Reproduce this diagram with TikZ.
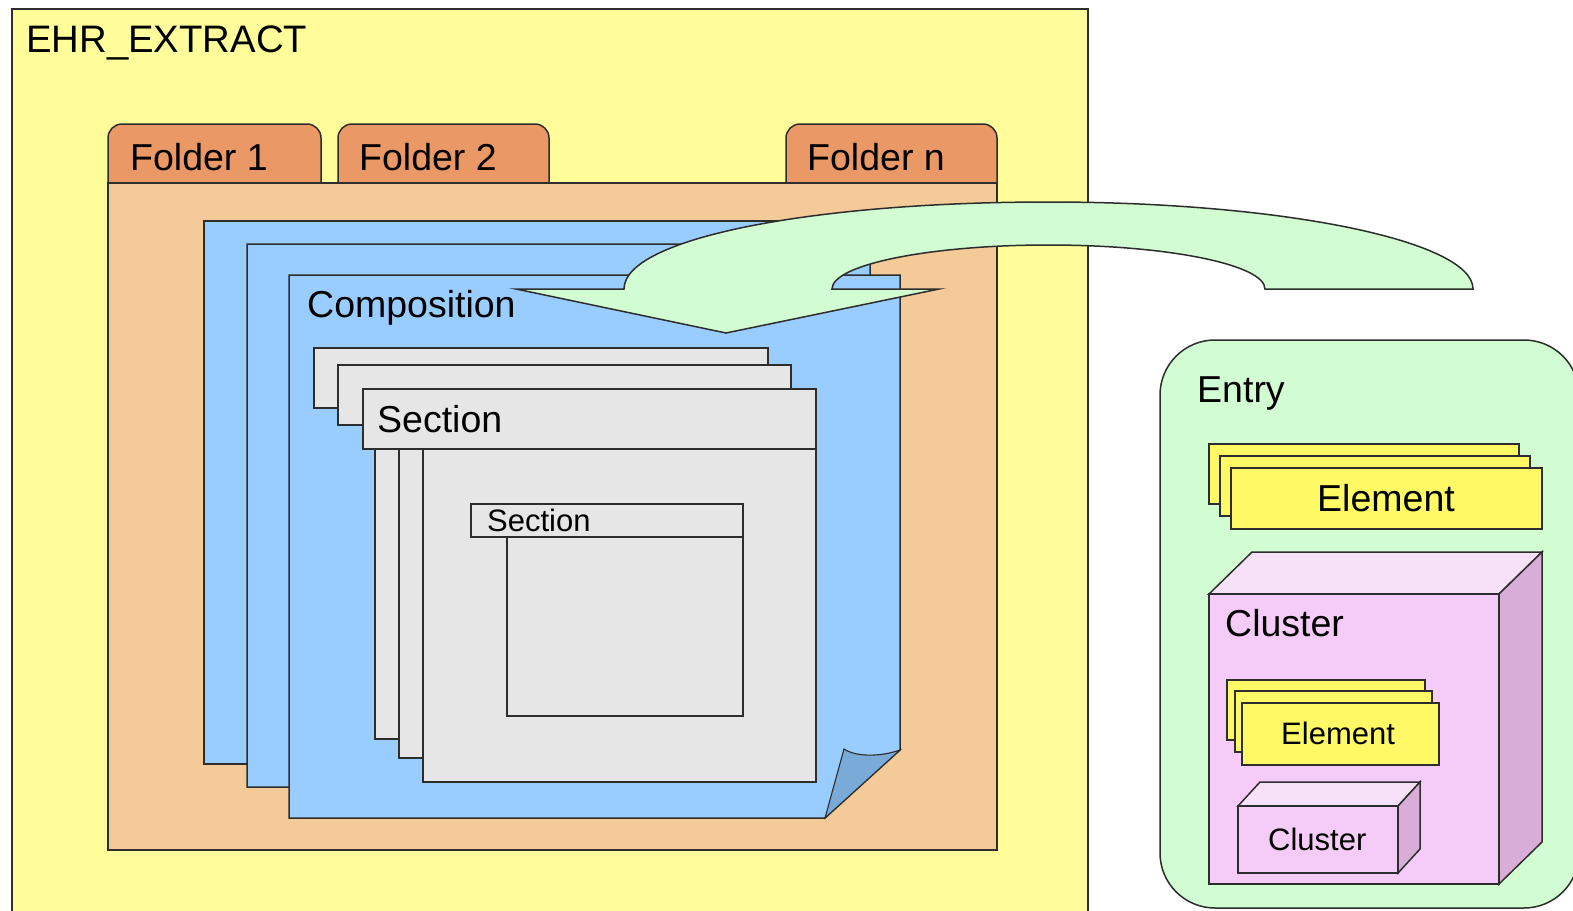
\documentclass[tikz,border=0pt]{standalone}
\usepackage{fontspec}
\setmainfont{Liberation Sans}
\definecolor{linec}{RGB}{45,45,45}
\definecolor{ehr}{RGB}{255,253,153}
\definecolor{fbody}{RGB}{244,202,152}
\definecolor{ftab}{RGB}{234,153,102}
\definecolor{comp}{RGB}{153,204,255}
\definecolor{curl}{RGB}{122,170,216}
\definecolor{sect}{RGB}{230,230,230}
\definecolor{entryg}{RGB}{210,252,210}
\definecolor{elem}{RGB}{255,249,102}
\definecolor{clfront}{RGB}{245,203,247}
\definecolor{cltop}{RGB}{247,225,249}
\definecolor{clside}{RGB}{216,174,216}
\begin{document}
\begin{tikzpicture}[x=1pt,y=-1pt,
  ln/.style={draw=linec,line width=1.5pt,line join=miter},
  lbl/.style={anchor=base west,inner sep=0pt,font=\fontsize{37.5}{40}\selectfont},
  slbl/.style={anchor=base west,inner sep=0pt,font=\fontsize{31}{34}\selectfont},
  clbl/.style={anchor=base,inner sep=0pt,font=\fontsize{37.5}{40}\selectfont}]
\useasboundingbox (0,0) rectangle (1573,910);
\clip (0,0) rectangle (1573,910);
\fill[white] (0,0) rectangle (1573,910);
% EHR extract
\filldraw[ln,fill=ehr] (12,9) rectangle (1088,940);
\node[lbl,font=\fontsize{38.3}{40}\selectfont] (ehr) at (26,52) {EHR\_EXTRACT};
% folders
\filldraw[ln,fill=ftab,rounded corners=14pt] (108,190) -- (108,124) -- (321,124) -- (321,190);
\filldraw[ln,fill=ftab,rounded corners=14pt] (338,190) -- (338,124) -- (549,124) -- (549,190);
\filldraw[ln,fill=ftab,rounded corners=14pt] (786,190) -- (786,124) -- (997,124) -- (997,190);
\filldraw[ln,fill=fbody] (108,183) rectangle (997,850);
\node[lbl] (f1) at (130,170) {Folder 1};
\node[lbl] (f2) at (359,170) {Folder 2};
\node[lbl] (fn) at (807,170) {Folder n};
% composition pages
\filldraw[ln,fill=comp] (204,221) rectangle (840,764);
\filldraw[ln,fill=comp] (247,244) -- (870,244) -- (870,719) -- (802,787) -- (247,787) -- cycle;
\filldraw[ln,fill=comp] (289,275) -- (900,275) -- (900,750) -- (825,818) -- (289,818) -- cycle;
\filldraw[ln,fill=curl,line width=1.1pt] (825,818) -- (844,749) .. controls (856,757) and (880,757) .. (900,750) -- cycle;
\node[lbl] (comp) at (307,317) {Composition};
% sections
\filldraw[ln,fill=sect] (375,408) rectangle (768,739);
\filldraw[ln,fill=sect] (314,348) rectangle (768,408);
\filldraw[ln,fill=sect] (399,425) rectangle (791,758);
\filldraw[ln,fill=sect] (338,365) rectangle (791,425);
\filldraw[ln,fill=sect] (423,449) rectangle (816,782);
\filldraw[ln,fill=sect] (363,389) rectangle (816,449);
\node[lbl] (sec) at (377,432) {Section};
\filldraw[ln,fill=sect] (507,537) rectangle (743,716);
\filldraw[ln,fill=sect] (471,504) rectangle (743,537);
\node[slbl] (ssec) at (487,531) {Section};
% big curved arrow
\filldraw[ln,fill=entryg] (516,289) -- (624,289)
  .. controls (624,238) and (814,202) .. (1048.5,202)
  .. controls (1283,202) and (1473,241) .. (1473,289)
  -- (1265,289)
  .. controls (1265,264.7) and (1168,245) .. (1048.5,245)
  .. controls (929,245) and (832,264.7) .. (832,289)
  -- (939,289) -- (726,333) -- cycle;
% entry
\filldraw[ln,fill=entryg,rounded corners=55pt] (1160,340) rectangle (1579,908);
\node[lbl] (entry) at (1197,402) {Entry};
\filldraw[ln,fill=elem] (1209,444) rectangle (1519,504);
\filldraw[ln,fill=elem] (1220,456) rectangle (1530,516);
\filldraw[ln,fill=elem] (1231,468) rectangle (1542,529);
\node[clbl] (el1) at (1386,511) {Element};
% big cluster cube
\filldraw[ln,fill=cltop] (1209,594) -- (1252,552) -- (1542,552) -- (1499,594) -- cycle;
\filldraw[ln,fill=clside] (1499,594) -- (1542,552) -- (1542,842) -- (1499,884) -- cycle;
\filldraw[ln,fill=clfront] (1209,594) rectangle (1499,884);
\node[lbl] (cl1) at (1225,636) {Cluster};
\filldraw[ln,fill=elem] (1227,680) rectangle (1425,740);
\filldraw[ln,fill=elem] (1235,691) rectangle (1432,752);
\filldraw[ln,fill=elem] (1242,703) rectangle (1439,765);
\node[slbl] (el2) at (1281,744) {Element};
% small cluster cube
\filldraw[ln,fill=cltop] (1238,806) -- (1260,782) -- (1420,782) -- (1398,806) -- cycle;
\filldraw[ln,fill=clside] (1398,806) -- (1420,782) -- (1420,849) -- (1398,873) -- cycle;
\filldraw[ln,fill=clfront] (1238,806) rectangle (1398,873);
\node[slbl] (cl2) at (1268,850) {Cluster};
\end{tikzpicture}
\end{document}
